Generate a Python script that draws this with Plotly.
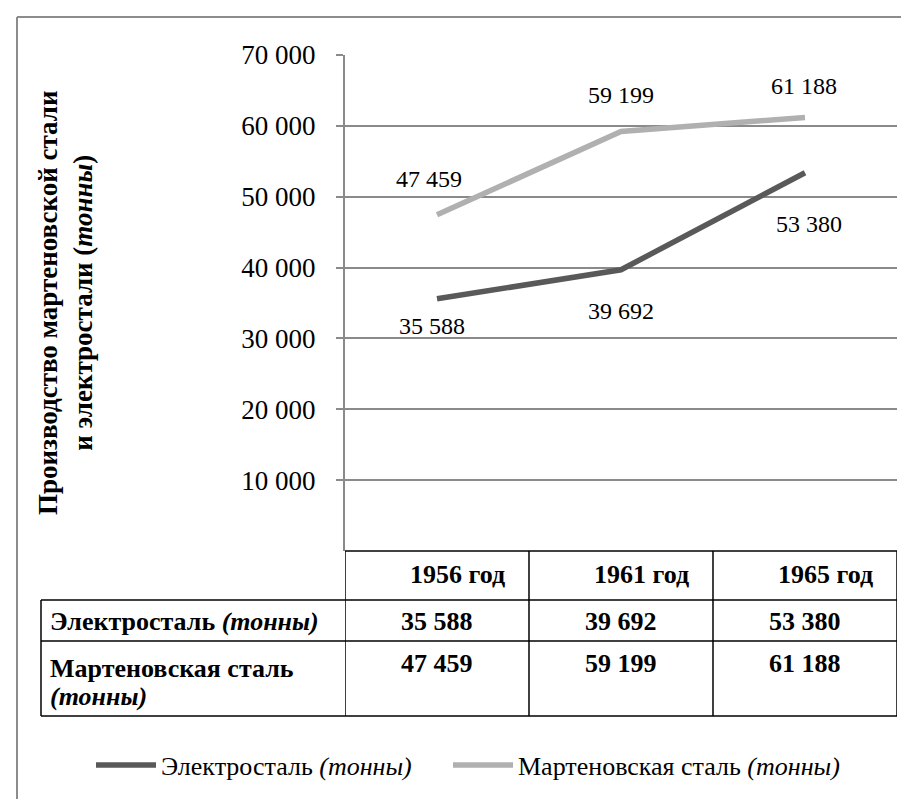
import plotly.graph_objects as go

# ---- data ----
categories = ["1956 год", "1961 год", "1965 год"]
electro = [35588, 39692, 53380]
marten = [47459, 59199, 61188]
series_names = ["Электросталь <i>(тонны)</i>", "Мартеновская сталь <i>(тонны)</i>"]
row_labels = ["<b>Электросталь <i>(тонны)</i></b>", "<b>Мартеновская сталь</b>", "<b><i>(тонны)</i></b>"]
tick_vals = [10000, 20000, 30000, 40000, 50000, 60000, 70000]
y_title = "<b>Производство мартеновской стали<br>и электростали (<i>тонны</i>)</b>"


def fmt(v):
    return f"{v:,}".replace(",", " ")


tick_text = [fmt(v) for v in tick_vals]

# ---- style ----
W, H = 909, 799
L, R, T, B = 337, 20, 47, 256
PW, PH = W - L - R, H - T - B
FONT = "Liberation Serif"
TXT = "#000000"
DARK = "#595959"
LIGHT = "#b0b0b0"
GRID = "#8a8a8a"


def px(xp):
    return (xp - L) / PW


def py(yp):
    return (H - B - yp) / PH


def f(size):
    return dict(family=FONT, size=size, color=TXT)


x_idx = list(range(len(categories)))

fig = go.Figure()
fig.add_trace(go.Scatter(x=x_idx, y=electro, mode="lines", name=series_names[0],
                         line=dict(color=DARK, width=5.5), legend="legend"))
fig.add_trace(go.Scatter(x=x_idx, y=marten, mode="lines", name=series_names[1],
                         line=dict(color=LIGHT, width=5.5), legend="legend2"))

annotations = []
# data labels
el_shift = [(-5, -27), (0, -41), (4, -51)]
ma_shift = [(-8, 36), (0, 37), (-1, 31)]
for i, v in enumerate(electro):
    annotations.append(dict(x=i, y=v, xref="x", yref="y", text=fmt(v), showarrow=False,
                            xanchor="center", yanchor="middle",
                            xshift=el_shift[i][0], yshift=el_shift[i][1], font=f(24)))
for i, v in enumerate(marten):
    annotations.append(dict(x=i, y=v, xref="x", yref="y", text=fmt(v), showarrow=False,
                            xanchor="center", yanchor="middle",
                            xshift=ma_shift[i][0], yshift=ma_shift[i][1], font=f(24)))

# table header and values
for i, c in enumerate(categories):
    annotations.append(dict(x=i, y=py(566), xref="x", yref="paper", text=f"<b>{c}</b>",
                            showarrow=False, xshift=20, xanchor="center", yanchor="middle", font=f(26)))
    annotations.append(dict(x=i, y=py(613), xref="x", yref="paper", text=f"<b>{fmt(electro[i])}</b>",
                            showarrow=False, xanchor="center", yanchor="middle", font=f(26)))
    annotations.append(dict(x=i, y=py(655), xref="x", yref="paper", text=f"<b>{fmt(marten[i])}</b>",
                            showarrow=False, xanchor="center", yanchor="middle", font=f(26)))

for lab, yy in zip(row_labels, (613, 660, 688)):
    annotations.append(dict(x=px(40), y=py(yy), xref="paper", yref="paper", text=lab,
                            showarrow=False, xanchor="left", yanchor="middle", align="left", font=f(26)))

# y-axis title
annotations.append(dict(x=px(57), y=py(295), xref="paper", yref="paper", text=y_title,
                        showarrow=False, textangle=-90, xanchor="center", yanchor="middle",
                        font=f(27)))

shapes = []
BLK = dict(color="#000", width=1.5)
# table lines
shapes.append(dict(type="line", xref="x", yref="paper", x0=-0.5, x1=2.5, y0=0, y1=0, line=BLK))
for yy in (592, 633, 708):
    shapes.append(dict(type="line", xref="paper", yref="paper", x0=px(33), x1=1, y0=py(yy), y1=py(yy), line=BLK))
for xx in (-0.5, 0.5, 1.5, 2.5):
    shapes.append(dict(type="line", xref="x", yref="paper", x0=xx, x1=xx, y0=0, y1=py(708), line=BLK))
shapes.append(dict(type="line", xref="paper", yref="paper", x0=px(33), x1=px(33), y0=py(592), y1=py(708), line=BLK))
# outer frame
shapes.append(dict(type="line", xref="paper", yref="paper", x0=px(9), x1=px(9), y0=py(9), y1=py(820),
                   line=dict(color="#8c8c8c", width=2)))
shapes.append(dict(type="line", xref="paper", yref="paper", x0=px(9), x1=px(930), y0=py(9), y1=py(9),
                   line=dict(color="#8c8c8c", width=2)))

legend_common = dict(orientation="h", y=py(757), yanchor="middle", font=f(26), itemwidth=60,
                     bgcolor="rgba(0,0,0,0)")

fig.update_layout(
    width=W, height=H,
    margin=dict(l=L, r=R, t=T, b=B, autoexpand=False),
    paper_bgcolor="white", plot_bgcolor="white",
    font=f(25),
    xaxis=dict(range=[-0.5, 2.5], showticklabels=False, showgrid=False, zeroline=False,
               showline=False, ticks="", fixedrange=True),
    yaxis=dict(range=[0, 70000], tickvals=tick_vals, ticktext=tick_text,
               tickfont=f(27),
               showgrid=True, gridcolor=GRID, gridwidth=2, zeroline=False,
               showline=True, linecolor=GRID, linewidth=2,
               ticks="outside", ticklen=7, tickcolor=GRID, tickwidth=2, ticklabelstandoff=15),
    showlegend=True,
    legend=dict(x=px(83), xanchor="left", **legend_common),
    legend2=dict(x=px(440), xanchor="left", **legend_common),
    annotations=annotations,
    shapes=shapes,
)

fig.write_html("out.html")
